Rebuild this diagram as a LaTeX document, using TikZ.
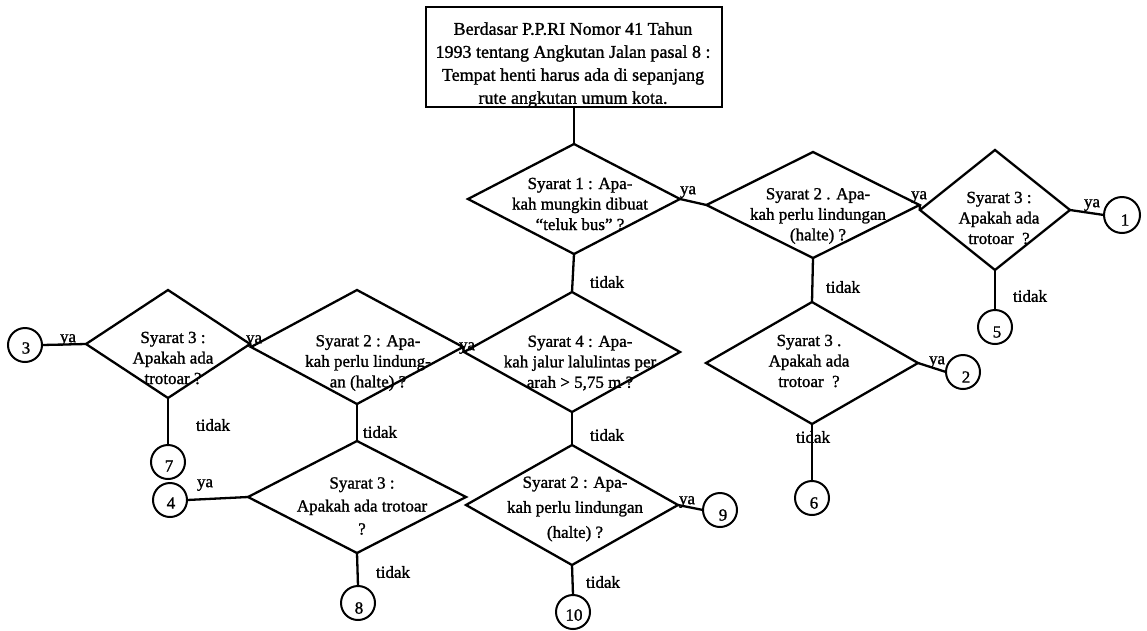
\documentclass[tikz,border=0pt]{standalone}
\usepackage{fontspec}
\setmainfont{Liberation Serif}[FakeBold=1.2]
\usetikzlibrary{shapes.geometric}
\newcommand\dtext{\fontsize{17}{20.5}\selectfont}
\newcommand\btext{\fontsize{18}{23}\selectfont}
\tikzset{
  dia/.style={draw, shape=diamond, inner sep=0pt, outer sep=0pt, line width=2.3pt},
  term/.style={draw, circle, minimum size=34pt, inner sep=0pt, outer sep=0pt, line width=2pt},
  topbox/.style={draw, rectangle, minimum width=296pt, minimum height=100pt, inner sep=0pt, outer sep=0pt, line width=2.3pt},
  txt/.style={align=center, font=\dtext, inner sep=0pt},
  lbl/.style={font=\dtext, inner sep=0pt},
  conn/.style={line width=2.3pt},
}
\begin{document}
\begin{tikzpicture}[x=1pt,y=-1pt]
\useasboundingbox (0,0) rectangle (1147,630);
\fill[white] (0,0) rectangle (1147,630);

% top box
\node[topbox] (box) at (574,57) {};
\node[txt, font=\btext] (boxt) at (573,65) {Berdasar P.P.RI Nomor 41 Tahun\\1993 tentang Angkutan Jalan pasal 8 :\\Tempat henti harus ada di sepanjang\\rute angkutan umum kota.};

% diamonds
\node[dia, minimum width=212pt, minimum height=110pt] (D1) at (574,199) {};
\node[dia, minimum width=213pt, minimum height=106pt] (D2) at (813,205) {};
\node[dia, minimum width=150pt, minimum height=120pt] (D3) at (995,210) {};
\node[dia, minimum width=212pt, minimum height=122pt] (D4) at (812,363) {};
\node[dia, minimum width=216pt, minimum height=120pt] (D5) at (572,352) {};
\node[dia, minimum width=212pt, minimum height=114pt] (D6) at (357,347) {};
\node[dia, minimum width=164pt, minimum height=108pt] (D7) at (168,344) {};
\node[dia, minimum width=218pt, minimum height=112pt] (D8) at (357,497) {};
\node[dia, minimum width=212pt, minimum height=120pt] (D9) at (572,505) {};

% diamond texts
\node[txt] (t1) at (580,204) {Syarat 1 : Apa-\\kah mungkin dibuat\\“teluk bus” ?};
\node[txt] (t2) at (818,216) {Syarat 2 . Apa-\\kah perlu lindungan\\(halte) ?};
\node[txt] (t3) at (999,218) {Syarat 3 :\\Apakah ada\\trotoar\ \ ?};
\node[txt] (t4) at (809,361) {Syarat 3 .\\Apakah ada\\trotoar\ \ ?};
\node[txt] (t5) at (580,363) {Syarat 4 : Apa-\\kah jalur lalulintas per\\arah > 5,75 m ?};
\node[txt] (t6) at (368,363) {Syarat 2 : Apa-\\kah perlu lindung-\\an (halte) ?};
\node[txt] (t7) at (173,358) {Syarat 3 :\\Apakah ada\\trotoar ?};
\node[txt, font=\fontsize{17}{23}\selectfont] (t8) at (362,506) {Syarat 3 :\\Apakah ada trotoar\\?};
\node[txt, font=\fontsize{17}{25}\selectfont] (t9) at (575,509) {Syarat 2 : Apa-\\kah perlu lindungan\\(halte) ?};

% terminal circles
\node[term, minimum size=36pt] (c1) at (1122,215) {};
\node[term] (c2) at (963,372) {};
\node[term] (c3) at (25,345) {};
\node[term] (c4) at (170,500) {};
\node[term] (c5) at (995,327) {};
\node[term] (c6) at (812,498) {};
\node[term] (c7) at (168,462) {};
\node[term] (c8) at (358,603) {};
\node[term] (c9) at (720,510) {};
\node[term] (c10) at (573,612) {};
\node[lbl] (n1) at ([shift={(3,5)}]c1.center) {1};
\node[lbl] (n2) at ([shift={(3,5)}]c2.center) {2};
\node[lbl] (n3) at ([shift={(1,3)}]c3.center) {3};
\node[lbl] (n4) at ([shift={(1,3)}]c4.center) {4};
\node[lbl] (n5) at ([shift={(2,5)}]c5.center) {5};
\node[lbl] (n6) at ([shift={(2,5)}]c6.center) {6};
\node[lbl] (n7) at ([shift={(1,4)}]c7.center) {7};
\node[lbl] (n8) at ([shift={(1,5)}]c8.center) {8};
\node[lbl] (n9) at ([shift={(3,5)}]c9.center) {9};
\node[lbl] (n10) at ([shift={(1,3)}]c10.center) {10};

% connectors
\draw[conn] (box.south) -- (D1.north);
\draw[conn] (D1.east) -- (D2.west);
\draw[conn] (D2.east) -- (D3.west);
\draw[conn] (D3.east) -- (c1.west);
\draw[conn] (D3.south) -- (c5.north);
\draw[conn] (D2.south) -- (D4.north);
\draw[conn] (D4.east) -- (c2.west);
\draw[conn] (D4.south) -- (c6.north);
\draw[conn] (D1.south) -- (D5.north);
\draw[conn] (D5.west) -- (D6.east);
\draw[conn] (D6.west) -- (D7.east);
\draw[conn] (D7.west) -- (c3.east);
\draw[conn] (D7.south) -- (c7.north);
\draw[conn] (D6.south) -- (D8.north);
\draw[conn] (D8.west) -- (c4.east);
\draw[conn] (D8.south) -- (c8.north);
\draw[conn] (D5.south) -- (D9.north);
\draw[conn] (D9.east) -- (c9.west);
\draw[conn] (D9.south) -- (c10.north);

% connector labels
\node[lbl] (l1) at (688,192) {ya};
\node[lbl] (l2) at (919,197) {ya};
\node[lbl] (l3) at (1092,205) {ya};
\node[lbl] (l4) at (1030,296) {tidak};
\node[lbl] (l5) at (607,282) {tidak};
\node[lbl] (l6) at (843,287) {tidak};
\node[lbl] (l7) at (937,362) {ya};
\node[lbl] (l8) at (813,437) {tidak};
\node[lbl] (l9) at (467,348) {ya};
\node[lbl] (l10) at (254,341) {ya};
\node[lbl] (l11) at (68,340) {ya};
\node[lbl] (l12) at (213,425) {tidak};
\node[lbl] (l13) at (380,432) {tidak};
\node[lbl] (l14) at (205,485) {ya};
\node[lbl] (l15) at (393,572) {tidak};
\node[lbl] (l16) at (607,435) {tidak};
\node[lbl] (l17) at (687,502) {ya};
\node[lbl] (l18) at (603,582) {tidak};
\end{tikzpicture}
\end{document}
